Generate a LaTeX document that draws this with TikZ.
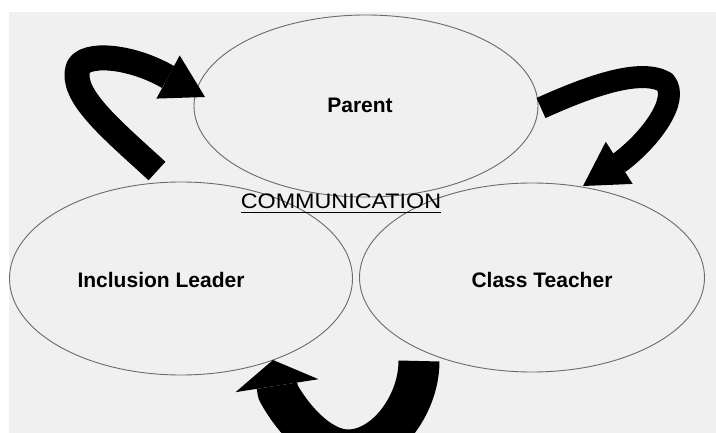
\documentclass[tikz,border=0pt]{standalone}
\usepackage{fontspec}
\setmainfont{Liberation Sans}
\usetikzlibrary{arrows.meta,shapes.geometric}
\definecolor{bg}{HTML}{F0F0F0}
\definecolor{edgegray}{HTML}{6A6A6A}
\newcommand\myuline[1]{\setbox0\hbox{#1}\rlap{\rule[-4.5pt]{\wd0}{1.8pt}}\box0}
\begin{document}
\begin{tikzpicture}[x=1pt,y=-1pt,
  circ/.style={draw=edgegray,line width=0.9pt,ellipse,inner sep=0pt},
  lbl/.style={font=\fontsize{21}{25}\selectfont\bfseries,inner sep=0pt,anchor=base},
  band/.style={line width=#1,line join=round,draw=black},
]
\useasboundingbox (0,0) rectangle (716,433);
\fill[bg] (9,12) rectangle (716,433);
\begin{scope}
\clip (0,0) rectangle (716,433);
\node[circ,minimum width=344pt,minimum height=182pt] (par) at (366,106) {};
\node[circ,minimum width=343pt,minimum height=193pt] (il) at (181,278.5) {};
\node[circ,minimum width=345pt,minimum height=189pt] (ct) at (532,277.5) {};
\node[lbl] (parT) at (360,113) {Parent};
\node[lbl] (ilT) at (161,288) {Inclusion Leader};
\node[lbl] (ctT) at (542,288) {Class Teacher};
\node[inner sep=0pt,anchor=base,font=\fontsize{21}{25}\selectfont] (comm) at (341,209) {\scalebox{1.11}[1]{\myuline{COMMUNICATION}}};
% arrows
\coordinate (a1s) at (157,171);
\coordinate (a1e) at (205,97);
\draw[band=25pt,-{Triangle[length=42pt,width=49pt,line width=0pt]}]
  (a1s) .. controls (110,128) and (70,95) .. (78,68)
        .. controls (84,52) and (130,55) .. (168,77) -- (a1e);
\coordinate (a2s) at (541,108);
\coordinate (a2e) at (583,186);
\draw[band=22pt,-{Triangle[length=43pt,width=50pt,line width=0pt]}]
  (a2s) .. controls (590,86) and (640,68) .. (665,82)
        .. controls (680,100) and (650,140) .. (619,163) -- (a2e);
\coordinate (a3s) at (419,361);
\coordinate (a3e) at (273,360);
\draw[band=41pt,-{Triangle[length=26pt,width=84pt,line width=0pt]}]
  (a3s) .. controls (419,405) and (385,450) .. (348,450)
        .. controls (320,450) and (292,418) .. (278,392) -- (a3e);
\end{scope}
\end{tikzpicture}
\end{document}
